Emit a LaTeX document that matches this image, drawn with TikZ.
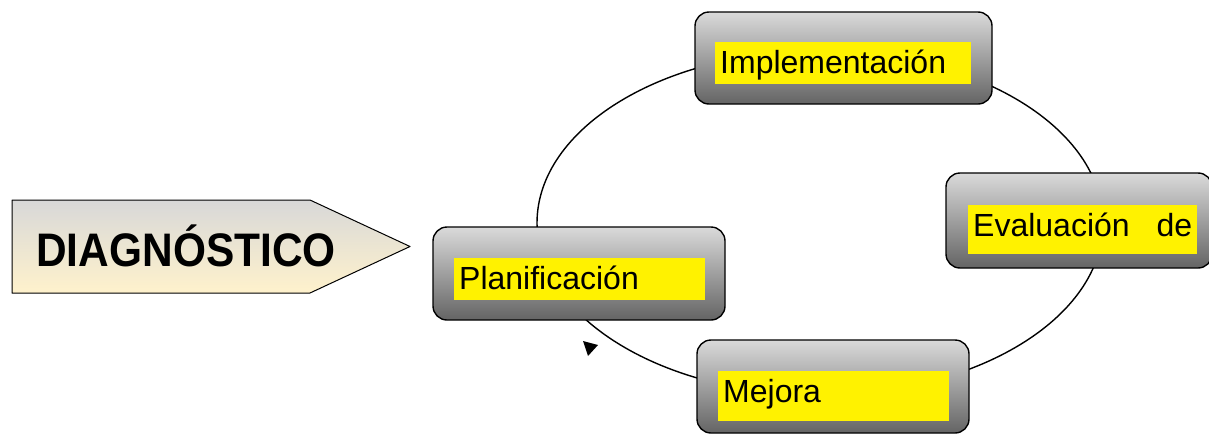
\documentclass[tikz,border=0pt]{standalone}
\usepackage{fontspec}
\setmainfont{Liberation Sans}
\definecolor{boxtop}{RGB}{218,218,218}
\definecolor{boxmid}{RGB}{188,188,188}
\definecolor{boxbot}{RGB}{100,100,100}
\definecolor{diagtop}{RGB}{216,216,216}
\definecolor{diagbot}{RGB}{255,242,204}
\tikzset{
	stagebox/.style={draw,line width=1.4pt,rounded corners=14pt,top color=boxtop,middle color=boxmid,bottom color=boxbot,inner sep=0pt},
	hilite/.style={fill=yellow,anchor=north west,align=left,inner xsep=5pt,inner ysep=0pt,text height=31pt,font=\fontsize{32}{38}\selectfont}
}
\begin{document}
\begin{tikzpicture}[x=1pt,y=-1pt,line join=round,line cap=round]
	\useasboundingbox (0,0) rectangle (1209,434);
	% the cycle
	\coordinate (cyc) at (820,223);
	\draw[line width=1.4pt] (cyc) ellipse[x radius=283pt,y radius=172pt];
	\fill (583,341)--(598,345)--(588,356)--cycle;
	% diagnostico arrow
	\draw[line width=1pt,top color=diagtop,bottom color=diagbot] (12,200)--(310,200)--(410,246.5)--(310,293)--(12,293)--cycle;
	\node[anchor=base,font=\bfseries\fontsize{42}{48}\selectfont] (diag) at (186,266) {\scalebox{1.01}[1.12]{DIAGNÓSTICO}};
	% stages
	\node[stagebox,minimum width=292pt,minimum height=93pt] (plan) at (579,273.5) {};
	\node[stagebox,minimum width=297pt,minimum height=92pt] (impl) at (843.5,58) {};
	\node[stagebox,minimum width=266pt,minimum height=95pt] (eval) at (1079,220.5) {};
	\node[stagebox,minimum width=272pt,minimum height=93pt] (mejora) at (833,386.5) {};
	\node[hilite,text width=241pt,text depth=11pt] (planTxt) at (454,258) {Planificación};
	\node[hilite,text width=246pt,text depth=11pt] (implTxt) at (715,42) {Implementación};
	\node[hilite,text width=219pt,text depth=18pt] (evalTxt) at (968,205) {Evaluación\hskip 0pt plus 1fill de};
	\node[hilite,text width=221pt,text depth=19pt] (mejoraTxt) at (718,371) {Mejora};
\end{tikzpicture}
\end{document}
